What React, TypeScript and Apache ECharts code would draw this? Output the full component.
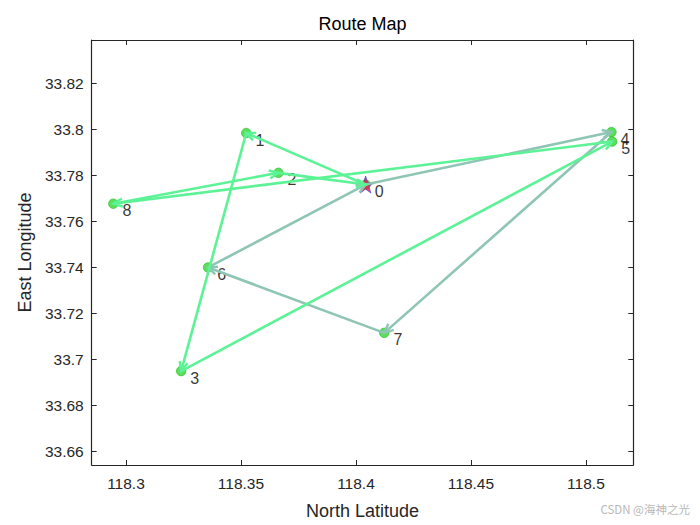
import React, { useEffect, useRef } from "react";
import * as echarts from "echarts";

const pointIds = ["0", "1", "2", "3", "4", "5", "6", "7", "8"];
const pointX = [118.4042, 118.3523, 118.3663, 118.324, 118.5111, 118.5114, 118.3357, 118.4123, 118.2945];
const pointY = [33.7759, 33.7983, 33.781, 33.6949, 33.7987, 33.7946, 33.7399, 33.7115, 33.7676];
const routeGreen = [0, 1, 3, 5, 8, 2, 0];
const routeGray = [0, 4, 7, 6, 0];
const xTicks = [118.3, 118.35, 118.4, 118.45, 118.5];
const yTicks = [33.66, 33.68, 33.7, 33.72, 33.74, 33.76, 33.78, 33.8, 33.82];

const segs = (route: number[]) =>
  route.slice(0, -1).map((a, i) => {
    const b = route[i + 1];
    return [pointX[a], pointY[a], pointX[b], pointY[b]];
  });

const STAR =
  "path://M50,0 L61.8,35.5 L99,35.5 L69,57.5 L80.5,93 L50,71 L19.5,93 L31,57.5 L1,35.5 L38.2,35.5 Z";

const fmt = (v: number) => String(+Number(v).toFixed(4));
const FONT = "Liberation Sans, Arial, sans-serif";

export default function App() {
  const ref = useRef<HTMLDivElement>(null);
  useEffect(() => {
    const chart = echarts.init(ref.current!, null, { renderer: "svg" });
    const arrowItem = (color: string) => (params: any, api: any) => {
      const p1 = api.coord([api.value(0), api.value(1)]);
      const p2 = api.coord([api.value(2), api.value(3)]);
      const ang = Math.atan2(p2[1] - p1[1], p2[0] - p1[0]);
      const L = 10;
      const h = 0.42;
      const a1 = [p2[0] - L * Math.cos(ang - h), p2[1] - L * Math.sin(ang - h)];
      const a2 = [p2[0] - L * Math.cos(ang + h), p2[1] - L * Math.sin(ang + h)];
      return {
        type: "group",
        children: [
          {
            type: "line",
            shape: { x1: p1[0], y1: p1[1], x2: p2[0], y2: p2[1] },
            style: { stroke: color, lineWidth: 2.6 },
          },
          {
            type: "polyline",
            shape: { points: [a1, p2, a2] },
            style: { stroke: color, lineWidth: 2.4, fill: "none" },
          },
        ],
      };
    };
    const axisCommon = {
      type: "value" as const,
      axisLine: { show: true, onZero: false, lineStyle: { color: "#262626", width: 1.2 } },
      axisTick: { show: true, inside: true, length: 5, lineStyle: { color: "#262626", width: 1 } },
      splitLine: { show: false },
    };
    const labelStyle = {
      color: "#262626",
      fontSize: 15.5,
      fontFamily: FONT,
    };
    chart.setOption({
      animation: false,
      backgroundColor: "#ffffff",
      grid: { left: 91.7, right: 66.7, top: 40, bottom: 60 },
      xAxis: [
        {
          ...axisCommon,
          position: "bottom",
          min: 118.2851,
          max: 118.5206,
          name: "North Latitude",
          nameLocation: "middle",
          nameGap: 37,
          nameTextStyle: { ...labelStyle, fontSize: 18, color: "#262626" },
          axisTick: { ...axisCommon.axisTick, customValues: xTicks },
          axisLabel: { ...labelStyle, customValues: xTicks, formatter: fmt, margin: 10 },
        },
        {
          ...axisCommon,
          position: "top",
          min: 118.2851,
          max: 118.5206,
          axisTick: { ...axisCommon.axisTick, customValues: xTicks },
          axisLabel: { show: false },
        },
      ],
      yAxis: [
        {
          ...axisCommon,
          position: "left",
          min: 33.6541,
          max: 33.8387,
          name: "East Longitude",
          nameLocation: "middle",
          nameGap: 58,
          nameTextStyle: { ...labelStyle, fontSize: 18, color: "#262626" },
          axisTick: { ...axisCommon.axisTick, customValues: yTicks },
          axisLabel: { ...labelStyle, customValues: yTicks, formatter: fmt, margin: 8 },
        },
        {
          ...axisCommon,
          position: "right",
          min: 33.6541,
          max: 33.8387,
          axisTick: { ...axisCommon.axisTick, customValues: yTicks },
          axisLabel: { show: false },
        },
      ],
      series: [
        {
          type: "scatter",
          z: 2,
          data: pointX.map((x, i) => [x, pointY[i]]),
          symbol: "circle",
          symbolSize: 9.5,
          itemStyle: { color: "#30d830", borderColor: "#28b82a", borderWidth: 0.8 },
          label: {
            show: true,
            position: "right",
            distance: 4,
            offset: [0, 7],
            formatter: (p: any) => pointIds[p.dataIndex],
            color: "#000",
            fontSize: 16,
            fontFamily: FONT,
          },
        },
        {
          type: "scatter",
          z: 3,
          data: [[pointX[0], pointY[0]]],
          symbol: STAR,
          symbolSize: 17,
          itemStyle: { color: "#f0154a", borderColor: "#2a2ac8", borderWidth: 0.7 },
        },
        {
          type: "custom",
          z: 4,
          encode: { x: [0, 2], y: [1, 3] },
          data: segs(routeGray),
          renderItem: arrowItem("#8ec5b4"),
        },
        {
          type: "custom",
          z: 5,
          encode: { x: [0, 2], y: [1, 3] },
          data: segs(routeGreen),
          renderItem: arrowItem("#5cf296"),
        },
      ],
      graphic: [
        {
          type: "text",
          x: 362.5,
          y: 24,
          style: {
            text: "Route Map",
            fill: "#000",
            fontSize: 18,
            fontFamily: FONT,
            align: "center",
            verticalAlign: "middle",
          },
        },
        {
          type: "text",
          right: 10,
          top: 503,
          style: {
            text: "CSDN @海神之光",
            fill: "#b8b8b8",
            fontSize: 11.5,
            fontFamily: "Noto Sans CJK SC, sans-serif",
          },
        },
      ],
    });
    return () => chart.dispose();
  }, []);
  return (
    <div
      ref={ref}
      style={{ position: "fixed", left: 0, top: 0, width: 700, height: 525, background: "#fff" }}
    />
  );
}
